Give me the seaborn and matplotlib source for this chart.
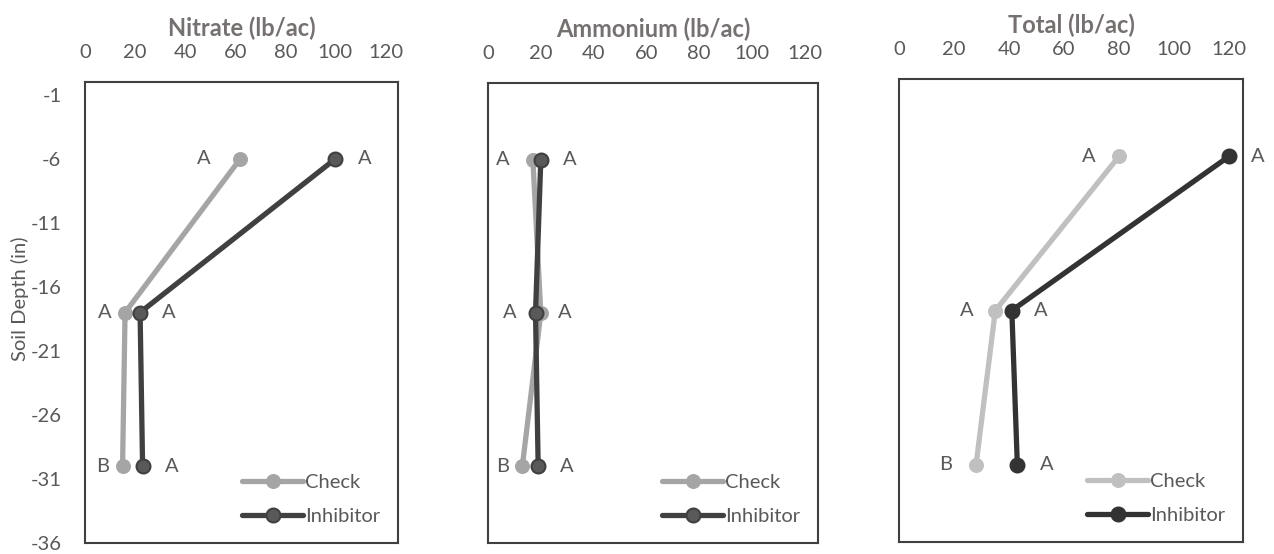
import numpy as np
import pandas as pd
import seaborn as sns
import matplotlib.pyplot as plt

# Datos
depths = [-6, -18, -30]
nitrate_check = [62, 16, 15]
nitrate_inhib = [100, 22, 23]
ammonium_check = [17, 20, 13]
ammonium_inhib = [20, 18, 19]
total_check = [80, 35, 28]
total_inhib = [120, 41, 43]

letters_check = {
    "Nitrate": ["A", "A", "B"],
    "Ammonium": ["A", "A", "B"],
    "Total": ["A", "A", "B"],
}
letters_inhib = {
    "Nitrate": ["A", "A", "A"],
    "Ammonium": ["A", "A", "A"],
    "Total": ["A", "A", "A"],
}

x_ticks = [0, 20, 40, 60, 80, 100, 120]
y_ticks = [-1, -6, -11, -16, -21, -26, -31, -36]

sns.set_style("white")
plt.rcParams["font.family"] = ["Lato", "DejaVu Sans"]
plt.rcParams["axes.unicode_minus"] = False

text_gray = "#595959"
title_gray = "#767171"

# desplazamiento horizontal (px) de las letras de la serie Check
off_check = {
    "Nitrate": [-36, -20, -20],
    "Ammonium": [-30, -31, -20],
    "Total": [-30, -29, -30],
}

panels = [
    ("Nitrate", nitrate_check, nitrate_inhib, [85, 82, 398, 543], "#A5A5A5", "#404040", "#595959"),
    ("Ammonium", ammonium_check, ammonium_inhib, [488, 83, 818, 543], "#A5A5A5", "#404040", "#595959"),
    ("Total", total_check, total_inhib, [899, 79, 1243, 542], "#C0C0C0", "#333333", "#333333"),
]

W, H = 1274, 554
fig = plt.figure(figsize=(W / 100, H / 100), dpi=100)

for i, (name, chk, inh, box, c_chk, c_inh, c_inh_face) in enumerate(panels):
    x0, y0, x1, y1 = box
    ax = fig.add_axes([x0 / W, (H - y1) / H, (x1 - x0) / W, (y1 - y0) / H])

    df = pd.DataFrame({
        "value": chk + inh,
        "depth": depths * 2,
        "treat": ["Check"] * 3 + ["Inhibitor"] * 3,
    })

    sns.lineplot(data=df[df.treat == "Check"], x="value", y="depth", sort=False,
                 color=c_chk, lw=3.8, marker="o", markersize=10,
                 markerfacecolor=c_chk, markeredgecolor=c_chk,
                 label="Check", ax=ax)
    sns.lineplot(data=df[df.treat == "Inhibitor"], x="value", y="depth", sort=False,
                 color=c_inh, lw=3.8, marker="o", markersize=10,
                 markerfacecolor=c_inh_face, markeredgecolor=c_inh, markeredgewidth=1.5,
                 label="Inhibitor", ax=ax)

    for x, y, t, dx in zip(chk, depths, letters_check[name], off_check[name]):
        ax.annotate(t, (x, y), xytext=(dx, 0), textcoords="offset pixels",
                    ha="center", va="center", fontsize=14.5, color=text_gray)
    for x, y, t in zip(inh, depths, letters_inhib[name]):
        ax.annotate(t, (x, y), xytext=(29, 0), textcoords="offset pixels",
                    ha="center", va="center", fontsize=14.5, color=text_gray)

    ax.set_xlim(0, 125)
    ax.set_ylim(-36, 0)
    ax.xaxis.tick_top()
    ax.xaxis.set_label_position("top")
    ax.set_xticks(x_ticks)
    ax.tick_params(axis="x", length=0, pad=15, labelsize=14.5, labelcolor=text_gray)
    ax.set_xlabel(f"{name} (lb/ac)", fontsize=17, fontweight="bold",
                  color=title_gray, labelpad=6)

    if i == 0:
        ax.set_yticks(y_ticks)
        ax.tick_params(axis="y", length=0, pad=17, labelsize=14.5, labelcolor=text_gray)
        ax.set_ylabel("Soil Depth (in)", fontsize=14.5, color=text_gray)
        ax.yaxis.set_label_coords(-0.18, 0.53)
    else:
        ax.set_yticks([])
        ax.set_ylabel("")

    for sp in ax.spines.values():
        sp.set_color("#404040")
        sp.set_linewidth(1.5)
        sp.set_visible(True)

    leg = ax.legend(loc="lower right", frameon=False, fontsize=14.5,
                    handlelength=3.0, handletextpad=0.1, labelspacing=0.85,
                    borderaxespad=0.5)
    for t in leg.get_texts():
        t.set_color(text_gray)

fig.savefig("out.png", dpi=100)
